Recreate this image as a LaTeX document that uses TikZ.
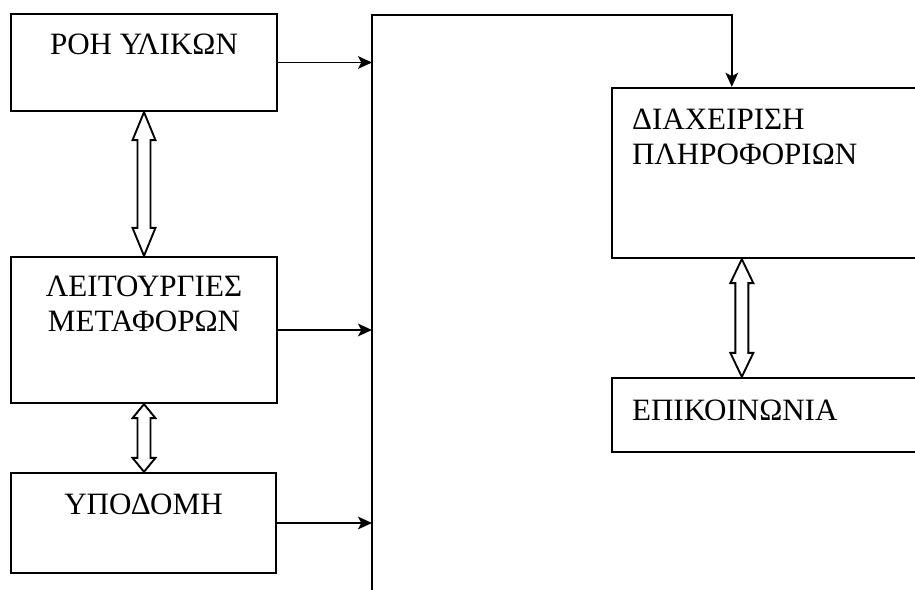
\documentclass[tikz,border=0pt]{standalone}
\usepackage{fontspec}
\setmainfont{Liberation Serif}
\usetikzlibrary{calc,arrows.meta}

\tikzset{
  box/.style={draw, line width=2pt, inner sep=0pt},
  boxtext/.style={inner sep=0pt, font=\fontsize{26.5pt}{30pt}\selectfont},
  feed/.style={line width=1.5pt, -{Stealth[length=0.42cm, width=0.38cm, inset=0.1cm]}},
  % hollow two-headed arrow, #1 = head length
  dblarrow/.style={line width=1.6pt, to path={let \p1=(\tikztostart), \p2=(\tikztotarget) in
    (\p1) -- (\x1-0.345cm,\y1-#1) -- (\x1-0.195cm,\y1-#1) -- (\x1-0.195cm,\y2+#1)
    -- (\x1-0.345cm,\y2+#1) -- (\x1,\y2) -- (\x1+0.345cm,\y2+#1) -- (\x1+0.195cm,\y2+#1)
    -- (\x1+0.195cm,\y1-#1) -- (\x1+0.345cm,\y1-#1) -- cycle}}
}

\begin{document}
\begin{tikzpicture}[x=0.03cm, y=-0.03cm]
        \useasboundingbox (0,0) rectangle (915,590);
        \clip (0,0) rectangle (915,590);

        % left column
        \node[box, minimum width=7.98cm, minimum height=2.91cm,
          label={[boxtext, anchor=north, yshift=-0.62cm]north:ΡΟΗ ΥΛΙΚΩΝ}] (flow) at (144,62.5) {};
        \node[box, minimum width=7.98cm, minimum height=4.38cm,
          label={[boxtext, align=center, anchor=north, yshift=-0.59cm]north:{ΛΕΙΤΟΥΡΓΙΕΣ\\ΜΕΤΑΦΟΡΩΝ}}] (ops) at (144,330) {};
        \node[box, minimum width=7.95cm, minimum height=3cm,
          label={[boxtext, anchor=north, yshift=-0.65cm]north:ΥΠΟΔΟΜΗ}] (infra) at (143.5,523) {};

        % right column (cut by the page edge)
        \node[box, minimum width=9.69cm, minimum height=5.1cm,
          label={[boxtext, align=left, anchor=north west, xshift=0.63cm, yshift=-0.65cm]north west:{ΔΙΑΧΕΙΡΙΣΗ\\ΠΛΗΡΟΦΟΡΙΩΝ}}] (info) at (773.5,173) {};
        \node[box, minimum width=9.69cm, minimum height=2.22cm,
          label={[boxtext, anchor=north west, xshift=0.63cm, yshift=-0.69cm]north west:ΕΠΙΚΟΙΝΩΝΙΑ}] (comm) at (773.5,415) {};

        % collecting line
        \coordinate (bustop) at (372,15);
        \coordinate (busend) at (372,600);
        \draw[feed] (busend) -- (bustop) -| ([xshift=3.63cm]info.north west);

        \draw[feed] (flow.east) -- (flow.east -| bustop);
        \draw[feed] (ops.east) -- (ops.east -| bustop);
        \draw[feed] (infra.east) -- (infra.east -| bustop);

        % two-way links
        \draw[dblarrow=0.84cm] (flow.south) to (ops.north);
        \draw[dblarrow=0.42cm] (ops.south) to (infra.north);
        \draw[dblarrow=0.72cm] ([xshift=3.93cm]info.south west) to ([xshift=3.93cm]comm.north west);

    \end{tikzpicture}
\end{document}
